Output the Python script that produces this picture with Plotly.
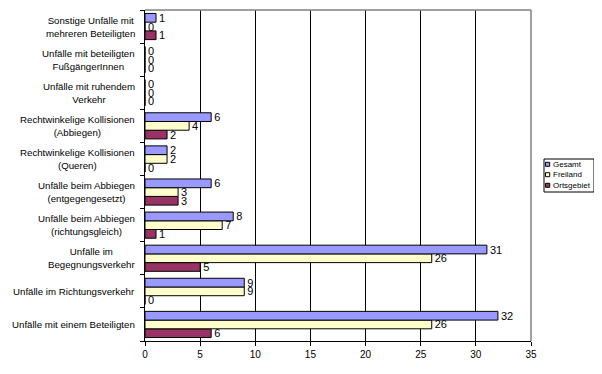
import plotly.graph_objects as go

categories = [
    "Unfälle mit einem Beteiligten",
    "Unfälle im Richtungsverkehr",
    "Unfälle im<br>Begegnungsverkehr",
    "Unfälle beim Abbiegen<br>(richtungsgleich)",
    "Unfälle beim Abbiegen<br>(entgegengesetzt)",
    "Rechtwinkelige Kollisionen<br>(Queren)",
    "Rechtwinkelige Kollisionen<br>(Abbiegen)",
    "Unfälle mit ruhendem<br>Verkehr",
    "Unfälle mit beteiligten<br>FußgängerInnen",
    "Sonstige Unfälle mit<br>mehreren Beteiligten",
]
series_names = ["Gesamt", "Freiland", "Ortsgebiet"]
gesamt = [32, 9, 31, 8, 6, 2, 6, 0, 0, 1]
freiland = [26, 9, 26, 7, 3, 2, 4, 0, 0, 0]
ortsgebiet = [6, 0, 5, 1, 3, 0, 2, 0, 0, 1]
x_ticks = [0, 5, 10, 15, 20, 25, 30, 35]

colors = {"Gesamt": "#9999FF", "Freiland": "#FFFFCC", "Ortsgebiet": "#993366"}
values = {"Gesamt": gesamt, "Freiland": freiland, "Ortsgebiet": ortsgebiet}

FONT = "Liberation Sans, Arial, sans-serif"

# page body has an 8px margin -> figure origin sits at (8, 8) of the window
OFF = 8
PL, PR, PT, PB = 145, 531, 10, 341  # plot area in window pixels


def px(xw):
    return (xw - PL) / (PR - PL)


def py(yw):
    return (PB - yw) / (PB - PT)


fig = go.Figure()
for name in reversed(series_names):
    vals = values[name]
    fig.add_trace(go.Bar(
        y=categories, x=vals, name=name, orientation="h",
        marker=dict(color=colors[name], line=dict(color="black", width=1)),
        text=[str(v) for v in vals], textposition="outside",
        textfont=dict(family=FONT, size=11, color="black"),
        constraintext="none", cliponaxis=False, showlegend=False,
    ))

for c in categories:
    fig.add_annotation(
        x=px(137), xref="paper", y=c, yref="y", text=c, showarrow=False,
        xanchor="right", yanchor="middle", align="center",
        font=dict(family=FONT, size=9.7, color="black"),
    )

# gray top/right plot border
fig.add_shape(type="line", xref="paper", yref="paper", x0=0, x1=1, y0=1, y1=1,
              line=dict(color="#808080", width=1.5))
fig.add_shape(type="line", xref="paper", yref="paper", x0=1, x1=1, y0=0, y1=1,
              line=dict(color="#808080", width=1.5))

# legend (Excel style, compact)
fig.add_shape(type="rect", xref="paper", yref="paper",
              x0=px(544), x1=px(594), y0=py(192), y1=py(159),
              line=dict(color="black", width=1), fillcolor="white")
row_y = [164.3, 174.7, 185.3]
for name, ry in zip(series_names, row_y):
    fig.add_shape(type="rect", xref="paper", yref="paper",
                  x0=px(545.5), x1=px(549.7), y0=py(ry + 2), y1=py(ry - 2),
                  line=dict(color="black", width=1), fillcolor=colors[name])
    fig.add_annotation(
        x=px(550.5), xref="paper", y=py(ry), yref="paper", text=name,
        showarrow=False, xanchor="left", yanchor="middle",
        font=dict(family=FONT, size=8, color="black"),
    )

fig.update_layout(
    width=602 - OFF, height=374 - OFF,
    margin=dict(l=PL - OFF, r=602 - PR, t=PT - OFF, b=374 - PB, pad=0,
                autoexpand=False),
    paper_bgcolor="white", plot_bgcolor="white",
    barmode="group", bargap=0.21, bargroupgap=0,
    font=dict(family=FONT, size=10, color="black"),
    showlegend=False,
    xaxis=dict(
        range=[0, 35], tickvals=x_ticks, showgrid=True, gridcolor="black",
        gridwidth=1, showline=True, linecolor="black", linewidth=1,
        ticks="outside", ticklen=4, tickcolor="black", zeroline=False,
        tickfont=dict(family=FONT, size=10),
    ),
    yaxis=dict(
        showticklabels=False, showline=True, linecolor="black", linewidth=1,
        ticks="outside", ticklen=4, tickcolor="black", tickson="boundaries",
        showgrid=False, categoryorder="array", categoryarray=categories,
    ),
)

fig.write_html("out.html")
